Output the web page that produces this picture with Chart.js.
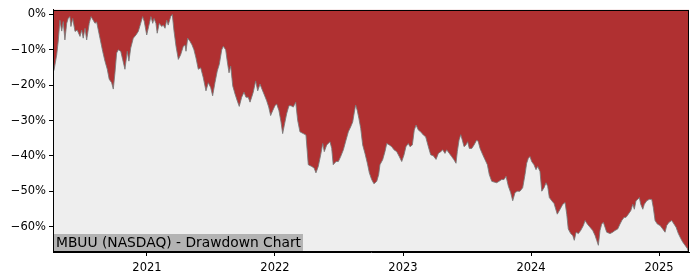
<!DOCTYPE html>
<html>
<head>
<meta charset="utf-8">
<script src="https://cdn.jsdelivr.net/npm/chart.js@4/dist/chart.umd.min.js"></script>
<style>
  html,body{margin:0;padding:0;background:#fff;}
  canvas{display:block;}
</style>
</head>
<body>
<canvas id="chart-dd" width="700" height="280"></canvas>
<script>
// Drawdown MBUU — dates en années décimales, drawdown en %
const dates = [
  2020.273,2020.295,2020.307,2020.320,2020.334,2020.346,2020.359,2020.373,2020.385,2020.398,
  2020.406,2020.420,2020.438,2020.455,2020.477,2020.490,2020.502,2020.516,2020.529,2020.549,
  2020.563,2020.580,2020.594,2020.607,2020.633,2020.654,2020.672,2020.690,2020.705,2020.724,
  2020.737,2020.750,2020.763,2020.776,2020.795,2020.810,2020.828,2020.846,2020.859,2020.873,
  2020.893,2020.914,2020.932,2020.951,2020.966,2020.979,2020.998,2021.013,2021.031,2021.045,
  2021.055,2021.070,2021.080,2021.096,2021.115,2021.127,2021.141,2021.154,2021.166,2021.185,
  2021.198,2021.211,2021.227,2021.245,2021.263,2021.284,2021.297,2021.305,2021.318,2021.336,
  2021.352,2021.367,2021.383,2021.401,2021.420,2021.440,2021.461,2021.479,2021.498,2021.513,
  2021.531,2021.549,2021.565,2021.584,2021.596,2021.615,2021.627,2021.641,2021.654,2021.670,
  2021.688,2021.705,2021.721,2021.740,2021.758,2021.773,2021.791,2021.805,2021.818,2021.830,
  2021.849,2021.865,2021.883,2021.898,2021.914,2021.935,2021.951,2021.966,2021.982,2022.000,
  2022.013,2022.031,2022.047,2022.060,2022.073,2022.091,2022.109,2022.125,2022.143,2022.162,
  2022.177,2022.195,2022.221,2022.242,2022.260,2022.287,2022.305,2022.320,2022.338,2022.357,
  2022.373,2022.385,2022.404,2022.430,2022.443,2022.455,2022.477,2022.495,2022.513,2022.534,
  2022.555,2022.573,2022.591,2022.607,2022.620,2022.630,2022.643,2022.656,2022.670,2022.685,
  2022.703,2022.721,2022.737,2022.755,2022.773,2022.795,2022.810,2022.820,2022.841,2022.859,
  2022.873,2022.893,2022.912,2022.930,2022.951,2022.971,2022.990,2023.008,2023.023,2023.041,
  2023.055,2023.073,2023.088,2023.102,2023.120,2023.138,2023.159,2023.177,2023.198,2023.216,
  2023.237,2023.258,2023.276,2023.295,2023.310,2023.328,2023.341,2023.362,2023.380,2023.398,
  2023.414,2023.424,2023.438,2023.451,2023.463,2023.477,2023.492,2023.505,2023.518,2023.537,
  2023.555,2023.576,2023.588,2023.602,2023.623,2023.641,2023.659,2023.674,2023.693,2023.711,
  2023.732,2023.750,2023.771,2023.789,2023.805,2023.823,2023.841,2023.857,2023.875,2023.893,
  2023.914,2023.935,2023.953,2023.966,2023.979,2023.992,2024.005,2024.023,2024.039,2024.052,
  2024.070,2024.084,2024.102,2024.117,2024.130,2024.143,2024.162,2024.180,2024.205,2024.227,
  2024.248,2024.266,2024.279,2024.291,2024.310,2024.326,2024.338,2024.352,2024.370,2024.388,
  2024.409,2024.422,2024.440,2024.461,2024.482,2024.500,2024.513,2024.526,2024.539,2024.552,
  2024.565,2024.578,2024.591,2024.617,2024.638,2024.656,2024.677,2024.695,2024.709,2024.727,
  2024.742,2024.760,2024.779,2024.795,2024.807,2024.820,2024.834,2024.846,2024.857,2024.873,
  2024.885,2024.904,2024.924,2024.943,2024.955,2024.969,2024.987,2025.008,2025.029,2025.047,
  2025.060,2025.078,2025.099,2025.117,2025.133,2025.151,2025.170,2025.185,2025.203,2025.221,
  2025.229
];
const drawdown = [
  -15.9,-11.4,-7.5,-1.6,-4.7,-2.0,-7.2,-2.5,-1.1,-0.6,
  -3.4,-1.1,-4.8,-4.4,-6.2,-4.4,-6.7,-3.9,-7.2,-2.5,
  -0.6,-1.6,-2.5,-2.1,-6.7,-10.4,-13.2,-15.5,-18.3,-19.3,
  -21.1,-16.5,-10.9,-10.0,-10.4,-12.7,-15.5,-10.4,-13.2,-9.5,
  -6.7,-5.8,-4.8,-2.5,-0.6,-2.0,-5.8,-3.4,-0.6,-2.5,
  -1.1,-2.5,-5.3,-2.5,-3.4,-3.0,-3.9,-1.6,-3.0,-0.6,
  0,-4.6,-9.0,-12.7,-11.4,-9.0,-8.6,-10.4,-6.7,-7.6,
  -8.6,-10.0,-12.3,-15.5,-15.1,-17.9,-21.6,-19.3,-20.7,-23.0,
  -19.3,-16.0,-14.1,-10.0,-9.0,-10.0,-13.2,-16.5,-14.6,-20.2,
  -22.5,-24.4,-26.0,-23.4,-22.0,-23.4,-23.4,-24.8,-23.4,-22.0,
  -18.8,-21.6,-19.7,-21.1,-22.5,-24.4,-26.2,-28.6,-27.2,-25.8,
  -25.3,-27.2,-30.4,-33.7,-31.3,-28.1,-25.8,-25.8,-26.2,-24.8,
  -29.9,-33.2,-33.7,-34.1,-42.5,-43.0,-43.4,-44.8,-43.0,-39.7,
  -36.5,-38.8,-36.9,-36.0,-37.9,-42.5,-41.6,-41.6,-40.2,-38.3,
  -35.5,-33.2,-31.8,-30.4,-27.6,-25.6,-27.2,-29.5,-32.3,-36.9,
  -39.3,-42.0,-44.8,-46.7,-47.9,-47.2,-45.3,-42.5,-41.1,-38.8,
  -36.5,-36.9,-37.4,-38.3,-38.8,-40.2,-41.6,-39.7,-37.4,-36.5,
  -37.4,-36.9,-32.7,-31.3,-32.7,-33.2,-34.1,-34.6,-37.4,-39.7,
  -40.0,-41.0,-39.3,-38.8,-38.3,-39.3,-38.3,-39.3,-40.2,-41.1,
  -42.1,-38.8,-35.5,-34.0,-35.5,-37.4,-36.9,-36.0,-37.9,-37.9,
  -36.9,-35.5,-36.0,-37.9,-39.7,-41.1,-42.5,-45.3,-47.2,-47.4,
  -47.6,-47.2,-46.7,-46.7,-45.8,-48.6,-50.4,-52.7,-50.4,-50.0,
  -50.0,-49.0,-45.3,-42.1,-40.7,-40.2,-41.6,-42.5,-43.9,-43.0,
  -44.4,-50.0,-49.0,-47.6,-48.6,-51.8,-52.7,-53.5,-56.5,-55.1,
  -53.7,-53.2,-56.5,-60.7,-62.0,-62.5,-63.9,-61.6,-62.0,-61.1,
  -59.7,-58.3,-59.3,-60.2,-61.1,-62.5,-63.9,-65.3,-61.1,-59.3,
  -58.8,-60.2,-61.6,-62.0,-61.6,-61.1,-60.7,-59.3,-58.3,-57.4,
  -57.4,-56.5,-55.5,-53.7,-55.1,-52.7,-52.3,-51.8,-53.7,-55.1,
  -53.7,-52.7,-52.3,-52.3,-54.6,-58.3,-59.3,-59.7,-60.7,-61.6,
  -59.7,-58.8,-58.3,-59.3,-60.2,-62.0,-63.4,-64.4,-65.3,-66.2,
  -67.2
];
const annees = [2021, 2022, 2023, 2024, 2025];
const paliers = [0, -10, -20, -30, -40, -50, -60];
const TITRE = "MBUU (NASDAQ) - Drawdown Chart";

const ROUGE = "#b03031";
const FONT = "'DejaVu Sans', sans-serif";

// fond rouge de la zone de tracé, cartouche et cadre par-dessus
const cadre = {
  id: "cadre",
  beforeDatasetsDraw(c){
    const {ctx, chartArea:a} = c;
    ctx.save();
    ctx.fillStyle = ROUGE;
    ctx.fillRect(a.left, a.top, a.right - a.left, a.bottom - a.top);
    ctx.restore();
  },
  afterDraw(c){
    const {ctx, chartArea:a} = c;
    ctx.save();
    ctx.font = "13.8px " + FONT;
    const w = ctx.measureText(TITRE).width;
    ctx.fillStyle = "#b3b3b3";
    ctx.fillRect(a.left + 1, a.bottom - 18, w + 4, 18);
    ctx.fillStyle = "#000";
    ctx.textBaseline = "alphabetic";
    ctx.fillText(TITRE, a.left + 3, a.bottom - 5.5);
    ctx.strokeStyle = "#000";
    ctx.lineWidth = 1;
    ctx.strokeRect(Math.round(a.left) + 0.5, Math.round(a.top) + 0.5,
                   Math.round(a.right - a.left) - 1, Math.round(a.bottom - a.top) - 1);
    ctx.restore();
  }
};

new Chart(document.getElementById("chart-dd"), {
  type: "line",
  data: {
    datasets: [{
      data: dates.map((d, i) => ({x: d, y: drawdown[i]})),
      borderColor: "rgba(120,120,120,0.85)",
      borderWidth: 1,
      backgroundColor: "#eeeeee",
      fill: "start",
      tension: 0,
      pointRadius: 0,
    }],
  },
  options: {
    responsive: false,
    animation: false,
    layout: {padding: {top: 7, right: 11, left: 0, bottom: 0}},
    plugins: {legend: {display: false}, tooltip: {enabled: false}},
    scales: {
      x: {
        type: "linear", min: 2020.266, max: 2025.234,
        afterBuildTicks: s => { s.ticks = annees.map(v => ({value: v})); },
        afterFit: s => { s.height = 28; },
        grid: {drawOnChartArea: false, drawTicks: true, tickLength: 4, color: "#000"},
        border: {display: true, color: "#000"},
        ticks: {color: "#000", padding: 5, maxRotation: 0, font: {family: FONT, size: 11.5},
                callback: v => String(v)},
      },
      y: {
        min: -67.2, max: 1.3,
        afterBuildTicks: s => { s.ticks = paliers.map(v => ({value: v})); },
        afterFit: s => { s.width = 53; },
        grid: {drawOnChartArea: false, drawTicks: true, tickLength: 4, color: "#000"},
        border: {display: true, color: "#000"},
        ticks: {color: "#000", padding: 3, font: {family: FONT, size: 11.5},
                callback: v => (v < 0 ? "\u2212" + Math.abs(v) : v) + "%"},
      },
    },
  },
  plugins: [cadre],
});
</script>
</body>
</html>
